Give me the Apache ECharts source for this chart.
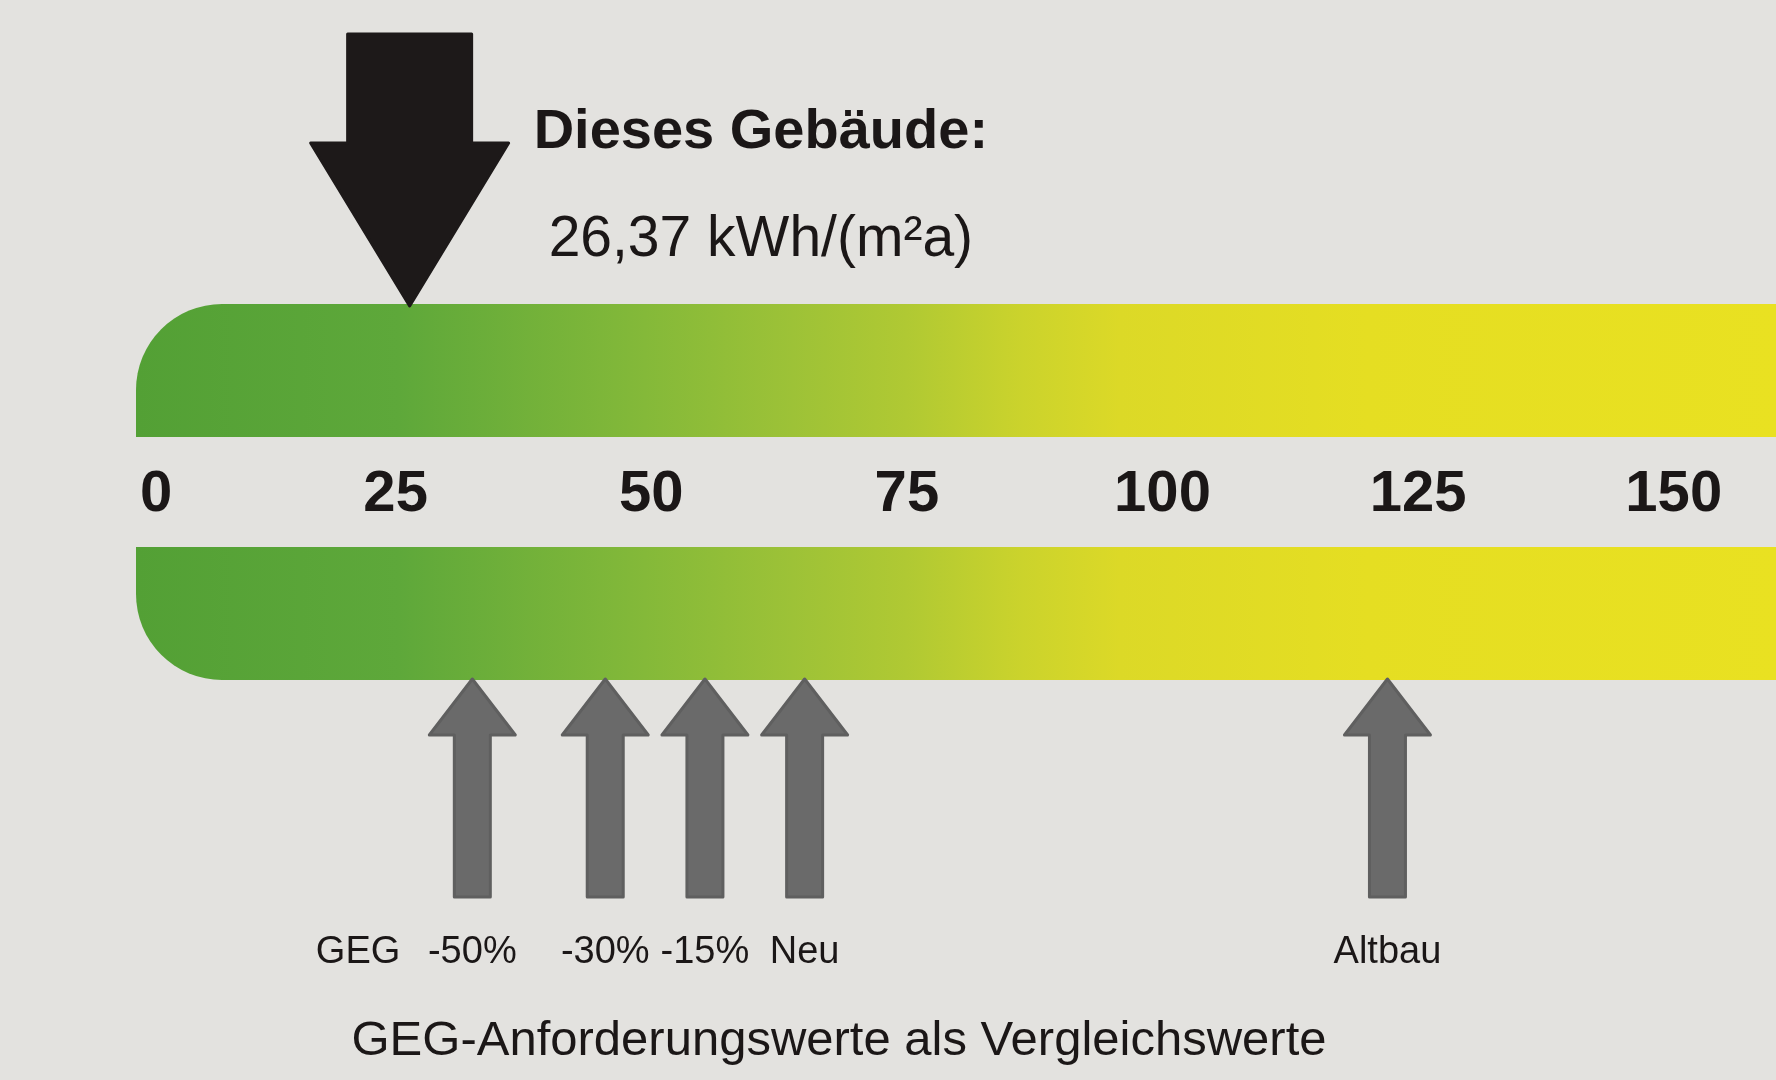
<!DOCTYPE html>
<html>
<head>
<meta charset="utf-8">
<script src="https://cdn.jsdelivr.net/npm/echarts@6/dist/echarts.min.js"></script>
<style>
html,body{margin:0;padding:0;background:#e3e2df;}
#c{width:1776px;height:1080px;}
</style>
</head>
<body>
<div id="c"></div>
<script>
// ---- data ----
const scaleRange = [0, 160];
const tickInterval = 25;
const buildingValue = 26.37;
const buildingTitle = 'Dieses Gebäude:';
const unitText = 'kWh/(m²a)';
const refValues = [32.5, 45.5, 55.25, 65, 122];
const refLabels = ['-50%', '-30%', '-15%', 'Neu', 'Altbau'];
const refPrefixes = ['GEG', '', '', '', ''];
const caption = 'GEG-Anforderungswerte als Vergleichswerte';

// ---- style ----
const FONT = '"Liberation Sans", Arial, Helvetica, sans-serif';
const TEXT = '#1b1717';
const gradStops = [
  { offset: 0.00, color: '#53a035' },
  { offset: 0.16, color: '#5ea83a' },
  { offset: 0.31, color: '#84b939' },
  { offset: 0.40, color: '#9dc237' },
  { offset: 0.47, color: '#b0c933' },
  { offset: 0.54, color: '#cbd32c' },
  { offset: 0.60, color: '#dcd927' },
  { offset: 0.75, color: '#e5de22' },
  { offset: 1.00, color: '#e9e121' }
];

const chart = echarts.init(document.getElementById('c'), null, { renderer: 'canvas' });

function renderBars(params, api) {
  const x0 = api.coord([api.value(0), 0])[0] - 4;
  const x1 = api.coord([api.value(1), 0])[0];
  const fill = { type: 'linear', x: 0, y: 0, x2: 1, y2: 0, colorStops: gradStops };
  return {
    type: 'group',
    children: [
      { type: 'rect', shape: { x: x0, y: 304, width: x1 - x0, height: 133, r: [86, 0, 0, 0] }, style: { fill: fill } },
      { type: 'rect', shape: { x: x0, y: 547, width: x1 - x0, height: 133, r: [0, 0, 0, 86] }, style: { fill: fill } }
    ]
  };
}

function fmtValue(v) {
  return v.toFixed(2).replace('.', ',') + ' ' + unitText;
}

function renderBuilding(params, api) {
  const x = api.coord([api.value(0), 0])[0];
  const pts = [
    [x - 62, 34], [x + 62, 34], [x + 62, 143], [x + 99, 143],
    [x, 306], [x - 99, 143], [x - 62, 143]
  ];
  return {
    type: 'group',
    children: [
      { type: 'polygon', shape: { points: pts }, style: { fill: '#1d1919', stroke: '#1d1919', lineWidth: 3, lineJoin: 'round' } },
      { type: 'text', x: x + 124, y: 133, style: { text: buildingTitle, fontFamily: FONT, fontSize: 56, fontWeight: 'bold', fill: TEXT, align: 'left', verticalAlign: 'middle' } },
      { type: 'text', x: x + 139, y: 240, style: { text: fmtValue(api.value(0)), fontFamily: FONT, fontSize: 57, fill: TEXT, align: 'left', verticalAlign: 'middle' } }
    ]
  };
}

function renderRefs(params, api) {
  const x = api.coord([api.value(0), 0])[0];
  const i = params.dataIndex;
  const pts = [
    [x, 679], [x + 43, 735], [x + 18, 735], [x + 18, 897],
    [x - 18, 897], [x - 18, 735], [x - 43, 735]
  ];
  const children = [
    { type: 'polygon', shape: { points: pts }, style: { fill: '#6a6a6a', stroke: '#5f5f5f', lineWidth: 3, lineJoin: 'round' } },
    { type: 'text', x: x, y: 953, style: { text: refLabels[i], fontFamily: FONT, fontSize: 38, fill: TEXT, align: 'center', verticalAlign: 'middle' } }
  ];
  if (refPrefixes[i]) {
    children.push({ type: 'text', x: x - 72, y: 953, style: { text: refPrefixes[i], fontFamily: FONT, fontSize: 38, fill: TEXT, align: 'right', verticalAlign: 'middle' } });
  }
  return { type: 'group', children: children };
}

const option = {
  animation: false,
  backgroundColor: '#e3e2df',
  grid: [
    { left: 140, right: 0, top: 0, bottom: 0 },
    { left: 140, right: 0, top: 495, height: 1 }
  ],
  xAxis: [
    { gridIndex: 0, type: 'value', min: scaleRange[0], max: scaleRange[1], show: false },
    {
      gridIndex: 1, type: 'value', position: 'top',
      min: scaleRange[0], max: scaleRange[1], interval: tickInterval,
      axisLine: { show: false }, axisTick: { show: false }, splitLine: { show: false },
      axisLabel: {
        margin: 0, verticalAlign: 'middle', fontFamily: FONT, fontSize: 58, fontWeight: 'bold', color: TEXT,
        showMaxLabel: false, alignMinLabel: 'left',
        formatter: function (v) { return v % tickInterval === 0 ? String(v) : ''; }
      }
    }
  ],
  yAxis: [
    { gridIndex: 0, type: 'value', min: 0, max: 1, show: false },
    { gridIndex: 1, type: 'value', min: 0, max: 1, show: false }
  ],
  series: [
    { type: 'custom', xAxisIndex: 0, yAxisIndex: 0, renderItem: renderBars, data: [[scaleRange[0], scaleRange[1]]], silent: true },
    { type: 'custom', xAxisIndex: 0, yAxisIndex: 0, renderItem: renderBuilding, data: [[buildingValue, 0]], silent: true },
    { type: 'custom', xAxisIndex: 0, yAxisIndex: 0, renderItem: renderRefs, data: refValues.map(function (v) { return [v, 0]; }), silent: true }
  ],
  graphic: [
    { type: 'text', x: 839, y: 1041, style: { text: caption, fontFamily: FONT, fontSize: 49, fill: TEXT, align: 'center', verticalAlign: 'middle' } }
  ]
};
chart.setOption(option);
</script>
</body>
</html>
